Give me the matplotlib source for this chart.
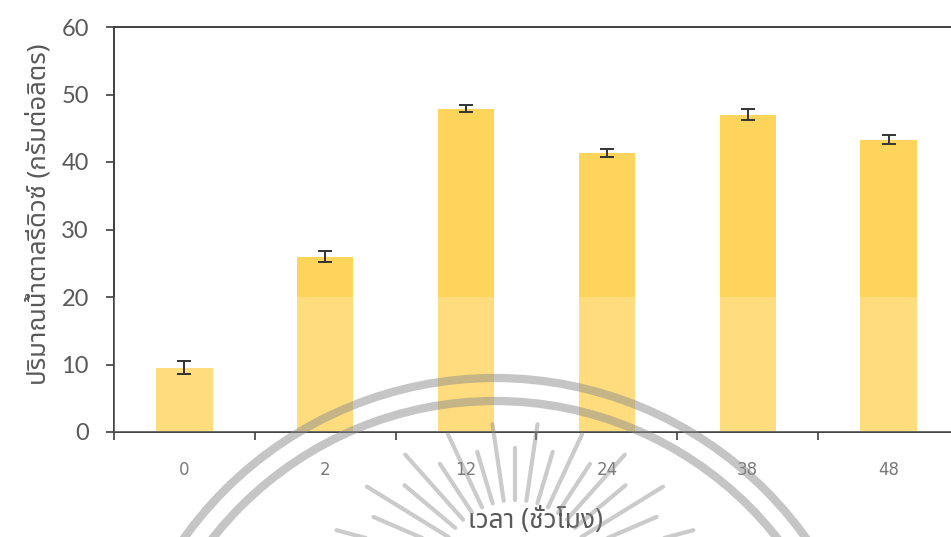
import numpy as np
import matplotlib
matplotlib.use("Agg")
import matplotlib.pyplot as plt
from matplotlib import font_manager
from matplotlib.ft2font import FT2Font
from matplotlib.patches import Circle

# reducing sugar over fermentation time
hours = ["0", "2", "12", "24", "38", "48"]
sugar = [9.5, 26.0, 47.9, 41.3, 47.0, 43.3]
sugar_err = [0.95, 0.8, 0.5, 0.6, 0.8, 0.65]

y_label = "ปริมาณน้ำตาลรีดิวซ์ (กรัมต่อลิตร)"
x_label = "เวลา (ชั่วโมง)"


def find_thai_family():
    preferred = ["Noto Sans Thai", "Noto Sans Thai Looped", "Loma", "Garuda",
                 "Tlwg Typist", "Sarabun", "TH Sarabun New"]
    found = []
    for f in font_manager.fontManager.ttflist:
        try:
            if FT2Font(f.fname).get_char_index(ord("ก")):
                found.append(f.name)
        except Exception:
            pass
    for name in preferred:
        if name in found:
            return name
    return found[0] if found else "DejaVu Sans"


thai = find_thai_family()

fig = plt.figure(figsize=(9.51, 5.37), dpi=100)
ax = fig.add_axes([114 / 951, 105 / 537, 845 / 951, 405 / 537])

x = np.arange(len(hours))
ax.bar(x, sugar, width=0.40, color="#FFD45A", zorder=2)
ax.errorbar(x, sugar, yerr=sugar_err, fmt="none", ecolor="#333333",
            elinewidth=1.4, capsize=5, capthick=1.4, zorder=4)
# paler lower band on the bars
ax.axhspan(0, 20, color="white", alpha=0.22, lw=0, zorder=3)

ax.set_xlim(-0.5, len(hours) - 0.5)
ax.set_ylim(0, 60)
ax.set_yticks(range(0, 61, 10))

ax.set_xticks(x)
ax.set_xticklabels(hours, family=["Liberation Sans Narrow", "DejaVu Sans"],
                   fontsize=12, color="#7a7a7a")
ax.set_xticks(np.arange(-0.5, len(hours), 1), minor=True)
ax.tick_params(axis="x", which="major", length=0, pad=21)
ax.tick_params(axis="x", which="minor", length=6, width=1.2, color="#404040",
               direction="out")
ax.tick_params(axis="y", length=6, width=1.2, color="#404040", pad=12,
               labelsize=17, labelcolor="#595959")
for lab in ax.get_yticklabels():
    lab.set_family(["Lato", "DejaVu Sans"])

for side in ["left", "bottom", "top"]:
    ax.spines[side].set_color("#404040")
    ax.spines[side].set_linewidth(1.4)
ax.spines["right"].set_visible(False)

fig.text(39 / 951, 1 - 214 / 537, y_label, rotation=90, ha="center",
         va="center", fontsize=18.5, color="#595959", family=[thai, "DejaVu Sans"])
fig.text(535 / 951, 1 - 521 / 537, x_label, ha="center", va="center",
         fontsize=19, color="#595959", family=[thai, "DejaVu Sans"])

# faint seal stamped over the lower part of the page
wm = fig.add_axes([0, 0, 1, 1], zorder=5)
wm.set_xlim(0, 951)
wm.set_ylim(537, 0)
wm.axis("off")
wm.patch.set_alpha(0)
for r in [382, 359]:
    wm.add_patch(Circle((495, 760), r, fill=False, lw=6, ec="#8c8c8c", alpha=0.5))
cx, cy = 515, 578
for i, ang in enumerate(np.linspace(15, 165, 19)):
    a = np.deg2rad(ang)
    r0 = 78
    r1 = (155 if i % 2 == 0 else 130) + 40 * (1 - np.sin(a))
    wm.plot([cx + r0 * np.cos(a), cx + r1 * np.cos(a)],
            [cy - r0 * np.sin(a), cy - r1 * np.sin(a)],
            color="#8c8c8c", lw=3, alpha=0.45, solid_capstyle="round")

fig.savefig("out.png", dpi=100)
